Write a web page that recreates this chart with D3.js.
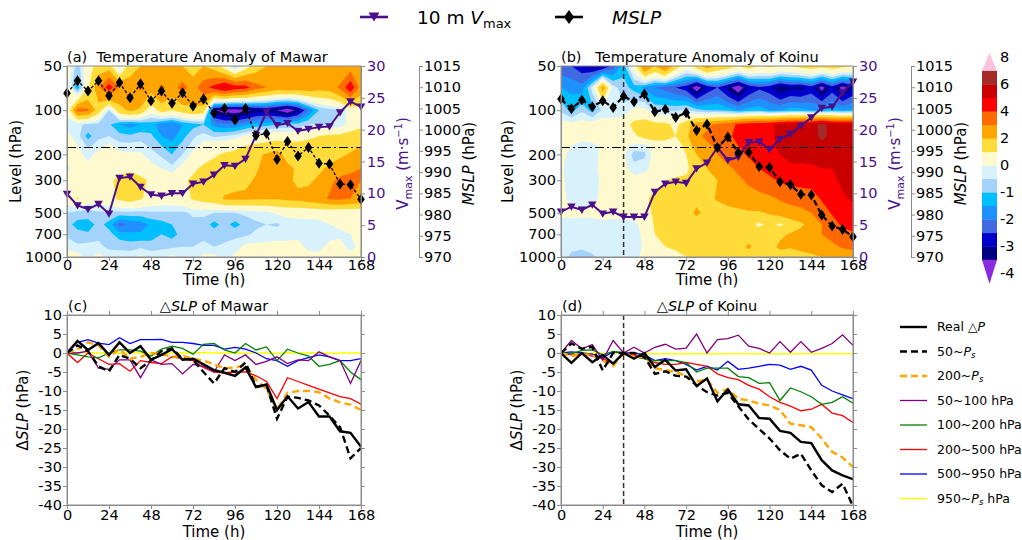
<!DOCTYPE html>
<html>
<head>
<meta charset="utf-8">
<script src="https://cdn.jsdelivr.net/npm/d3@7"></script>
<style>
  body { margin: 0; background: #fff; }
  svg text { font-family: "DejaVu Sans", sans-serif; }
</style>
</head>
<body>
<svg id="fig" width="1022" height="540"></svg>
<script>
// ---------------- data ----------------
const hours = [0, 6, 12, 18, 24, 30, 36, 42, 48, 54, 60, 66, 72, 78, 84, 90, 96, 102, 108, 114, 120, 126, 132, 138, 144, 150, 156, 162, 168];
const levels = [50, 70, 100, 125, 150, 175, 200, 250, 300, 400, 500, 600, 700, 850, 1000];

// temperature anomaly (K), one row per pressure level, one column per hour
const anomMawar = [
  [0.5, -0.8, 0.5, 1.5, 1.5, -0.4, 1.5, 2.0, 2.5, 2.0, 2.5, 2.0, 1.5, 2.0, 1.5, 0.5, -0.8, 0.5, 1.5, 2.0, 2.5, 2.5, 2.5, 2.5, 2.0, 2.0, 2.0, 2.5, 2.0],
  [0.3, -1.4, 0.8, 2.8, 4.6, 3.0, 2.6, 3.2, 2.4, 3.2, 2.6, 3.4, 2.6, 3.6, 4.4, 5.2, 4.6, 4.4, 3.4, 3.0, 2.6, 2.8, 2.6, 2.6, 2.4, 2.4, 3.2, 4.8, 2.6],
  [0.3, 3.4, 3.2, 1.5, -0.5, 1.6, 2.2, 1.8, 0.4, 1.4, 1.0, 1.5, 1.8, 1.5, -3.4, -3.9, -3.9, -3.7, -3.3, -3.2, -3.5, -4.0, -3.3, -2.0, -1.0, -0.7, -0.5, 0.3, 0.5],
  [-0.3, -0.4, -0.6, -0.7, -0.9, -1.5, -1.7, -1.5, -1.3, -1.8, -2.0, -1.5, -1.2, -1.0, -1.7, -1.9, -1.9, -1.6, -1.3, -1.2, -1.0, -0.9, -0.8, -0.5, -0.5, -0.5, -0.4, 0.3, 0.8],
  [0.2, -0.3, -1.2, -0.6, -0.5, -0.8, -0.9, -0.7, -0.9, -1.5, -1.7, -1.2, -0.6, -0.3, -0.6, -0.5, -0.3, 0.1, 0.3, 0.5, 0.6, 0.5, 0.6, 0.8, 1.0, 1.2, 1.3, 1.5, 1.5],
  [0.3, 0.0, -0.6, -0.3, 0.2, -0.3, -0.3, -0.3, -0.6, -1.0, -1.3, -0.8, -0.3, 0.3, 0.5, 0.6, 0.8, 1.0, 1.2, 1.3, 1.5, 1.4, 1.3, 1.4, 1.5, 1.5, 1.6, 1.7, 2.0],
  [0.4, 0.3, -0.3, 0.3, 0.4, 0.2, 0.1, 0.1, -0.3, -0.6, -1.0, -0.5, 0.2, 0.6, 0.9, 1.1, 1.2, 1.5, 1.8, 2.1, 2.4, 1.6, 1.4, 1.6, 1.7, 1.6, 1.8, 2.1, 2.4],
  [-0.2, 0.4, 0.3, 0.4, 0.5, 0.6, 0.8, 0.5, 0.3, 0.0, -0.3, 0.3, 0.8, 1.2, 1.3, 1.4, 1.5, 1.6, 1.9, 2.3, 2.6, 2.3, 1.8, 1.6, 1.8, 2.2, 2.6, 2.8, 3.0],
  [0.3, 0.4, 0.5, 0.6, 0.8, 1.3, 1.5, 1.3, 0.8, 0.6, 0.6, 0.8, 1.2, 1.4, 1.5, 1.6, 1.7, 1.8, 2.1, 2.4, 2.5, 2.2, 1.8, 1.8, 2.2, 2.8, 3.2, 3.3, 3.0],
  [0.3, 1.1, 0.3, 0.4, 0.6, 1.2, 1.5, 1.1, 0.6, 0.5, 0.5, 0.6, 1.1, 1.4, 1.6, 2.1, 2.2, 2.2, 2.1, 2.1, 2.1, 2.2, 2.3, 2.5, 2.7, 3.1, 3.2, 3.0, 2.8],
  [-0.5, -0.7, -0.7, -0.6, -0.6, -0.7, -0.7, -0.7, -0.6, -0.6, -0.6, -0.6, -0.4, -0.4, -0.5, -0.5, -0.5, -0.4, -0.3, -0.2, 0.1, 0.2, 0.2, 0.3, 0.3, 0.3, 0.2, 0.2, 0.2],
  [-0.8, -1.2, -1.3, -0.8, -1.2, -2.2, -1.9, -1.8, -1.4, -1.2, -1.0, -0.8, -0.7, -0.7, -1.2, -0.8, -1.2, -0.8, -0.6, -0.5, -0.6, -0.3, -0.2, -0.3, -0.2, 0.0, 0.1, 0.2, 0.1],
  [-0.6, -0.8, -0.9, -0.6, -0.8, -1.3, -1.4, -1.4, -1.3, -1.0, -1.2, -0.8, -0.7, -0.6, -0.7, -0.7, -0.6, -0.6, -0.4, -0.3, -0.2, -0.2, -0.2, -0.3, -0.2, -0.2, -0.1, 0.0, 0.0],
  [-0.2, -0.4, -0.3, -0.4, -0.6, -0.6, -0.7, -0.6, -0.7, -0.6, -0.6, -0.5, -0.5, -0.4, -0.5, -0.4, -0.3, 0.2, 0.2, 0.2, 0.2, 0.2, 0.3, -0.2, -0.2, 0.2, 0.2, -0.2, 0.2],
  [0.5, 0.3, -0.2, 0.3, -0.2, -0.3, -0.2, 0.2, -0.2, -0.2, 0.2, -0.2, -0.2, 0.2, 0.2, -0.2, 0.2, 0.3, 0.3, 0.2, 0.3, 0.3, 0.2, 0.3, 0.2, 0.2, 0.3, 0.3, 0.3]
];
const anomKoinu = [
  [-2.3, -2.5, -2.8, -3.2, -3.2, -2.3, -1.2, 0.5, 3.2, 2.0, 3.2, 1.5, 0.5, 1.5, 2.5, 1.8, 1.5, 1.0, 1.5, 1.0, 1.2, 1.0, 1.0, 1.3, 1.5, 1.3, 1.5, 1.3, 1.0],
  [-1.5, -1.6, -1.8, -0.3, 2.5, -0.3, -0.8, -1.2, -1.6, -2.0, -2.2, -2.5, -2.8, -4.0, -2.9, -2.5, -3.2, -4.0, -3.0, -2.6, -2.8, -3.5, -3.1, -3.2, -2.8, -3.8, -2.8, -3.8, -3.0],
  [-0.6, -1.2, -0.6, -1.2, -0.4, -0.3, -0.3, 0.2, 0.2, -0.6, -0.6, -0.6, -0.4, -0.8, -1.0, -1.0, -1.2, -1.5, -1.3, -1.2, -1.5, -1.5, -1.3, -1.3, -1.5, -1.5, -1.3, -1.5, -1.4],
  [0.3, 0.2, 0.3, 0.3, 0.4, 0.3, 0.5, 1.3, 1.5, 1.3, 1.2, 0.8, 1.5, 2.6, 2.8, 3.2, 3.5, 4.2, 4.5, 4.6, 4.8, 5.3, 5.5, 5.5, 5.6, 6.3, 5.6, 5.5, 5.5],
  [0.3, 0.3, 0.2, 0.4, 0.3, 0.3, 0.3, 0.8, 1.4, 1.4, 1.4, 1.0, 1.8, 2.8, 3.2, 3.5, 3.8, 4.3, 4.4, 4.6, 4.8, 5.2, 5.6, 5.8, 5.6, 6.2, 5.8, 5.8, 5.8],
  [0.2, 0.0, -0.2, -0.2, 0.2, 0.3, 0.2, -0.2, -0.3, 0.5, 0.5, 0.5, 1.3, 2.5, 2.8, 3.2, 3.6, 4.0, 4.2, 4.5, 4.8, 5.2, 5.5, 5.6, 5.6, 5.8, 5.6, 5.8, 6.0],
  [0.2, -0.2, -0.3, -0.3, 0.2, 0.3, 0.1, -0.7, -0.6, 0.3, 0.4, 0.5, 1.0, 2.0, 2.6, 3.0, 3.4, 3.8, 4.1, 4.4, 4.7, 5.0, 5.3, 5.3, 5.4, 5.5, 5.4, 5.6, 5.8],
  [0.1, -0.3, -0.3, -0.2, 0.2, 0.3, 0.2, -0.3, -0.2, 0.3, 0.4, 0.5, 0.8, 1.5, 2.0, 2.5, 2.8, 3.2, 3.6, 4.0, 4.3, 4.6, 4.8, 4.8, 4.8, 5.0, 5.0, 5.3, 5.5],
  [0.1, -0.2, -0.3, -0.2, 0.1, 0.3, 0.2, 0.3, 0.4, 0.7, 0.9, 1.2, 1.2, 1.3, 1.6, 2.0, 2.3, 2.8, 3.2, 3.6, 3.8, 4.1, 4.3, 4.4, 4.4, 4.6, 4.8, 5.2, 5.5],
  [0.2, -0.2, -0.3, -0.2, 0.2, 0.2, 0.3, 0.5, 0.8, 1.3, 1.4, 1.5, 1.4, 1.6, 1.7, 2.1, 2.3, 2.4, 2.5, 2.6, 2.8, 3.1, 3.3, 3.3, 3.5, 4.1, 4.3, 4.8, 5.2],
  [0.2, 0.3, 0.2, 0.2, 0.3, 0.3, 0.3, 0.4, 0.6, 1.2, 1.3, 1.4, 1.4, 2.3, 1.6, 1.5, 1.7, 1.8, 1.9, 1.9, 2.1, 2.4, 2.6, 2.8, 3.0, 3.5, 4.1, 4.3, 4.5],
  [-0.3, -0.4, -0.3, -0.3, -0.2, -0.3, -0.3, -0.2, 0.3, 1.1, 1.2, 1.3, 1.2, 1.3, 1.4, 1.5, 1.6, 1.6, 1.3, 0.8, 1.3, 0.8, 1.4, 1.8, 2.4, 3.0, 3.5, 4.2, 4.4],
  [-0.3, -0.4, -0.3, -0.3, -0.3, -0.2, -0.3, -0.3, 0.2, 1.0, 1.1, 1.2, 1.1, 1.2, 1.4, 1.5, 1.5, 1.4, 1.5, 1.6, 1.5, 1.8, 2.1, 2.4, 2.6, 3.0, 3.3, 3.6, 3.8],
  [-0.3, -0.4, -0.4, -0.3, -0.3, -0.3, -0.3, -0.3, 0.1, 0.8, 1.0, 1.1, 1.2, 1.2, 1.3, 1.4, 1.6, 1.6, 2.2, 1.5, 1.6, 2.2, 2.1, 2.3, 2.4, 2.6, 2.8, 3.1, 3.2],
  [-0.3, -0.6, -0.8, -0.6, -0.3, -0.3, -0.4, -0.2, 0.2, 0.5, 0.6, 0.8, 1.0, 1.1, 1.2, 1.3, 1.2, 1.3, 1.4, 1.4, 1.3, 1.5, 1.4, 1.6, 1.8, 2.0, 2.2, 2.4, 2.6]
];

// 10 m maximum wind (m/s) and minimum sea-level pressure (hPa)
const vmaxMawar = [9.9, 8.1, 7.5, 8.3, 6.8, 12.4, 12.6, 11.0, 9.8, 9.6, 10.0, 10.0, 11.5, 11.8, 12.9, 14.4, 14.3, 15.4, 19.1, 22.8, 20.7, 21.0, 19.8, 20.1, 20.4, 20.5, 22.7, 24.4, 23.6];
const mslpMawar = [1008.6, 1011.5, 1009.1, 1011.5, 1008.0, 1011.1, 1007.5, 1010.8, 1006.8, 1009.1, 1006.2, 1008.7, 1005.6, 1007.2, 1003.9, 1005.0, 1002.3, 1005.0, 998.6, 999.1, 993.0, 997.2, 993.8, 995.8, 992.1, 991.9, 987.2, 987.0, 983.6];
const vmaxKoinu = [7.1, 7.9, 7.4, 8.2, 6.8, 7.1, 6.3, 6.3, 6.3, 10.2, 11.5, 11.8, 11.6, 13.9, 14.8, 17.2, 15.2, 15.7, 18.0, 18.1, 16.9, 18.5, 19.3, 20.6, 21.9, 23.4, 23.6, 25.8, 27.5];
const mslpKoinu = [1007.2, 1004.9, 1007.0, 1005.4, 1006.8, 1005.2, 1007.9, 1006.6, 1008.4, 1004.2, 1004.8, 1002.9, 1004.0, 999.8, 1001.3, 995.8, 998.3, 994.6, 994.7, 991.3, 991.1, 987.7, 987.0, 984.8, 984.6, 979.9, 977.3, 976.5, 974.8];

// sea-level pressure change (hPa) and its contributions from layers
const realDpMawar = [0, 3.2, 0.8, 2.6, -0.5, 2.8, 0.0, 1.8, -1.8, -0.5, 1.0, -1.8, -1.5, -3.0, -4.5, -5.2, -6.0, -3.8, -9.0, -8.3, -15.0, -11.4, -14.6, -12.9, -16.7, -16.7, -20.6, -21.0, -24.7];
const ps50Mawar = [0, 2.0, 0.5, -3.5, -4.8, -0.5, -1.5, -4.0, -2.0, 0.5, 1.2, -1.5, -1.8, -5.0, -8.0, -4.0, -5.0, -2.5, -8.8, -8.5, -17.3, -11.5, -11.8, -12.5, -13.8, -16.5, -19.5, -27.7, -25.0];
const ps200Mawar = [0, 1.0, 2.8, 2.0, -1.0, 1.0, -1.5, -1.0, 0.0, -0.3, -1.0, -0.8, -1.5, -2.0, -3.0, -4.0, -3.8, -3.2, -7.0, -9.5, -14.8, -10.5, -10.0, -10.0, -10.3, -12.0, -13.0, -13.6, -15.0];
const l50Mawar = [0, 0.0, 0.5, -4.0, -4.3, -1.8, -1.8, -6.5, -1.8, -3.0, -2.8, -5.5, -3.0, -3.5, -5.0, -0.5, -2.0, -0.5, -3.0, -2.2, -1.0, -2.8, -1.8, -2.0, 0.3, -1.0, -2.0, -8.0, -2.0];
const l100Mawar = [0, -0.5, -1.0, -1.3, 0.0, 0.8, 0.8, 0.5, -0.8, 1.0, 1.8, 1.2, -0.3, 2.3, 2.5, 0.8, 0.0, 2.5, 0.8, 1.6, -2.0, 1.0, 0.0, -0.8, -3.5, -3.0, -2.0, -5.0, -7.0];
const l200Mawar = [0, -2.5, 0.0, -1.5, -3.0, -2.8, -4.8, -2.0, -2.5, -2.8, -1.0, -1.5, -2.0, -3.8, -5.0, -5.2, -5.0, -5.0, -6.0, -7.5, -12.0, -6.5, -7.5, -8.5, -9.5, -10.5, -11.5, -12.0, -13.5];
const l500Mawar = [0, 2.8, 3.5, 2.6, 2.2, 4.0, 2.5, 3.5, 3.5, 3.6, 2.8, 2.8, 2.5, 2.0, 2.0, 1.0, 1.5, 1.0, 0.0, -1.5, -2.0, -3.5, -2.0, -1.2, -0.5, -1.0, -2.0, -2.0, -1.5];
const l950Mawar = [0, 0.1, 0.1, 0, 0, -0.1, 0, 0, 0, -0.1, 0, 0, 0, 0.1, 0, 0, 0, -0.1, 0, 0, -0.1, 0, 0, 0, 0, -0.1, 0, 0, 0];

const realDpKoinu = [0, -2.6, 0.0, -2.4, -0.5, -2.8, 0.0, -1.5, 0.0, -3.7, -1.8, -4.6, -4.3, -8.7, -6.7, -12.7, -9.6, -13.5, -13.8, -17.1, -17.3, -20.5, -21.0, -23.4, -23.7, -28.2, -30.9, -32.2, -33.2];
const ps50Koinu = [0, 2.5, 1.1, 1.6, -4.6, 0.0, 0.0, 0.0, -1.0, -5.5, -4.8, -6.0, -6.2, -8.5, -10.3, -11.2, -10.5, -14.0, -17.5, -20.0, -22.5, -25.6, -27.8, -26.5, -30.9, -34.8, -36.6, -34.4, -40.3];
const ps200Koinu = [0, -0.8, -0.3, -0.5, -2.0, -3.5, 0.0, -1.0, -1.0, -4.0, -4.5, -5.0, -6.0, -7.5, -7.0, -10.5, -9.5, -12.0, -12.5, -13.3, -13.8, -15.0, -18.6, -19.0, -19.5, -22.5, -26.0, -27.5, -30.0];
const l50Koinu = [0, 3.3, 1.1, 2.2, -1.9, 3.3, 0.0, 1.5, 0.0, 1.5, 2.3, 1.0, 1.3, 5.0, 0.0, 3.5, 3.8, 4.7, 1.8, 1.2, 0.0, 3.0, 0.2, 3.0, 0.2, 1.2, 2.5, 4.8, 2.0];
const l100Koinu = [0, -0.2, 0.7, 0.8, -0.5, 0.4, 0.0, -1.0, -1.5, -2.0, -2.0, -2.0, -2.5, -5.0, -4.0, -4.0, -4.0, -6.2, -6.5, -8.0, -7.8, -12.5, -9.2, -10.2, -11.5, -13.5, -13.0, -11.5, -13.2];
const l200Koinu = [0, -0.5, -0.3, -0.8, -1.5, -2.8, 0.0, -0.5, -1.5, -2.5, -3.0, -3.0, -2.5, -3.0, -3.5, -5.5, -6.5, -7.0, -8.5, -9.5, -11.5, -13.0, -14.0, -15.2, -14.8, -13.5, -15.8, -16.5, -18.3];
const l500Koinu = [0, 0.3, 0.0, -0.3, -1.2, 0.3, 0.0, 0.0, -0.5, -2.0, -1.5, -2.0, -3.0, -4.5, -3.5, -4.5, -2.2, -4.3, -4.0, -3.5, -3.0, -3.2, -4.3, -3.5, -4.5, -8.5, -10.0, -11.0, -12.0];
const l950Koinu = [0, 0, 0, 0, -0.1, 0, 0, -0.1, -0.1, -0.2, -0.2, -0.2, -0.2, -0.2, -0.2, -0.2, -0.2, -0.2, -0.2, -0.2, -0.2, -0.2, -0.2, -0.2, -0.2, -0.2, -0.2, -0.2, -0.2];

const timeTicks = [0, 24, 48, 72, 96, 120, 144, 168];
const levelTicks = [50, 100, 200, 300, 500, 700, 1000];
const vmaxTicks = [0, 5, 10, 15, 20, 25, 30];
const mslpTicks = [970, 975, 980, 985, 990, 995, 1000, 1005, 1010, 1015];
const dslpTicks = [10, 5, 0, -5, -10, -15, -20, -25, -30, -35, -40];
const cbarTicks = [8, 6, 4, 2, 0, -1, -2, -3, -4];

// colour bands: first colour lies below the first edge
const bandEdges = [-3.5, -3, -2.5, -2, -1.5, -1, -0.5, 0, 1, 2, 3, 4, 5, 6, 7];
const bandColors = ["#8a2be2", "#000080", "#0000cd", "#4169e1", "#1e90ff", "#00bfff", "#a3d2fb", "#d7f2fd",
                    "#fffacd", "#ffdc3a", "#ffa500", "#ff6a00", "#ff0000", "#c80000", "#a52a2a", "#fcc3df"];

// ---------------- layout ----------------
const svg = d3.select("#fig");
const VCOL = "#4b0f8c";
const SPINE = "#8c8c8c";
const FS = 14.5;

const panelA = { l: 67, r: 361, t: 66, b: 257 };
const panelB = { l: 561, r: 853, t: 66, b: 257 };
const panelC = { l: 67, r: 361, t: 315, b: 505 };
const panelD = { l: 561, r: 853, t: 315, b: 505 };

const defs = svg.append("defs");
function clipFor(id, p) {
  defs.append("clipPath").attr("id", id).append("rect")
    .attr("x", p.l).attr("y", p.t).attr("width", p.r - p.l).attr("height", p.b - p.t);
  return "url(#" + id + ")";
}

function styleAxis(g, color) {
  g.selectAll(".domain").attr("stroke", SPINE);
  g.selectAll(".tick line").attr("stroke", SPINE);
  g.selectAll(".tick text").attr("font-size", FS).attr("fill", color || "#000")
    .attr("font-family", "DejaVu Sans");
}

function fmt(v) { return String(v); }

// ---------------- contour panels ----------------
function contourPanel(p, grid, vmax, mslp, opts) {
  const x = d3.scaleLinear().domain([0, 168]).range([p.l, p.r]);
  const y = d3.scaleLog().domain([50, 1000]).range([p.t, p.b]);
  const yv = d3.scaleLinear().domain([0, 30]).range([p.b, p.t]);
  const ym = d3.scaleLinear().domain([970, 1015]).range([p.b, p.t]);
  const g = svg.append("g");
  const field = g.append("g").attr("clip-path", clipFor(opts.id, p));

  field.append("rect").attr("x", p.l).attr("y", p.t).attr("width", p.r - p.l).attr("height", p.b - p.t)
    .attr("fill", bandColors[0]);

  const n = hours.length, m = levels.length;
  const contours = d3.contours().size([n, m]).thresholds(bandEdges)(grid.flat());
  const px = c => {
    const f = Math.max(0, Math.min(n - 1, c - 0.5));
    const i0 = Math.min(n - 2, Math.floor(f));
    return x(hours[i0] + (hours[i0 + 1] - hours[i0]) * (f - i0));
  };
  const py = c => {
    const f = Math.max(0, Math.min(m - 1, c - 0.5));
    const j0 = Math.min(m - 2, Math.floor(f));
    return y(levels[j0] + (levels[j0 + 1] - levels[j0]) * (f - j0));
  };
  contours.forEach((mp, k) => {
    let d = "";
    mp.coordinates.forEach(poly => poly.forEach(ring => {
      d += "M" + ring.map(q => px(q[0]).toFixed(2) + "," + py(q[1]).toFixed(2)).join("L") + "Z";
    }));
    if (d) field.append("path").attr("d", d).attr("fill", bandColors[k + 1]);
  });

  // tropical storm threshold 17.2 m/s
  g.append("line").attr("x1", p.l).attr("x2", p.r).attr("y1", yv(17.2)).attr("y2", yv(17.2))
    .attr("stroke", "#000").attr("stroke-width", 1.2).attr("stroke-dasharray", "9,3,2,3");

  if (opts.vline !== undefined) {
    g.append("line").attr("x1", x(opts.vline)).attr("x2", x(opts.vline)).attr("y1", p.t).attr("y2", p.b)
      .attr("stroke", "#333").attr("stroke-width", 1.5).attr("stroke-dasharray", "5,3");
  }

  // Vmax line with down-pointing triangles
  g.append("path").datum(vmax)
    .attr("d", d3.line().x((d, i) => x(hours[i])).y(d => yv(d)))
    .attr("fill", "none").attr("stroke", VCOL).attr("stroke-width", 2);
  g.selectAll(".tri").data(vmax).enter().append("path")
    .attr("d", (d, i) => { const cx = x(hours[i]), cy = yv(d);
      return `M${cx - 4.3},${cy - 3.3}L${cx + 4.3},${cy - 3.3}L${cx},${cy + 4}Z`; })
    .attr("fill", VCOL);

  // MSLP line with thin diamonds
  g.append("path").datum(mslp)
    .attr("d", d3.line().x((d, i) => x(hours[i])).y(d => ym(d)))
    .attr("fill", "none").attr("stroke", "#000").attr("stroke-width", opts.mslpWidth)
    .attr("stroke-dasharray", opts.mslpDash);
  g.selectAll(".dia").data(mslp).enter().append("path")
    .attr("d", (d, i) => { const cx = x(hours[i]), cy = ym(d);
      return `M${cx},${cy - 5.5}L${cx + 3.8},${cy}L${cx},${cy + 5.5}L${cx - 3.8},${cy}Z`; })
    .attr("fill", "#000");

  // frame
  g.append("rect").attr("x", p.l).attr("y", p.t).attr("width", p.r - p.l).attr("height", p.b - p.t)
    .attr("fill", "none").attr("stroke", SPINE);

  // axes
  const ax = g.append("g").attr("transform", `translate(0,${p.b})`)
    .call(d3.axisBottom(x).tickValues(timeTicks).tickSize(4).tickSizeOuter(0).tickFormat(fmt));
  styleAxis(ax); ax.selectAll(".tick text").attr("dy", "0.7em").attr("y", 3);
  const ay = g.append("g").attr("transform", `translate(${p.l},0)`)
    .call(d3.axisLeft(y).tickValues(levelTicks).tickSize(4).tickSizeOuter(0).tickFormat(fmt));
  styleAxis(ay); ay.selectAll(".tick text").attr("x", -5);
  const av = g.append("g").attr("transform", `translate(${p.r},0)`)
    .call(d3.axisRight(yv).tickValues(vmaxTicks).tickSize(4).tickSizeOuter(0).tickFormat(fmt));
  styleAxis(av, VCOL); av.selectAll(".tick text").attr("x", 6);
  const am = g.append("g").attr("transform", `translate(${p.r + 58},0)`)
    .call(d3.axisRight(ym).tickValues(mslpTicks).tickSize(4).tickSizeOuter(0).tickFormat(fmt));
  styleAxis(am); am.selectAll(".tick text").attr("x", 5);

  // labels
  svg.append("text").attr("x", p.l).attr("y", p.t - 4).attr("font-size", FS)
    .attr("xml:space", "preserve").text(opts.title);
  svg.append("text").attr("transform", `translate(${p.l - opts.levelOffset},${(p.t + p.b) / 2}) rotate(-90)`)
    .attr("text-anchor", "middle").attr("font-size", 15).text("Level (hPa)");
  svg.append("text").attr("x", (p.l + p.r) / 2).attr("y", p.b + 28).attr("text-anchor", "middle")
    .attr("font-size", 15).text("Time (h)");
  const vl = svg.append("text").attr("transform", `translate(${p.r + 47},${(p.t + p.b) / 2 + 2}) rotate(-90)`)
    .attr("text-anchor", "middle").attr("font-size", 15).attr("fill", VCOL);
  vl.append("tspan").text("V");
  vl.append("tspan").attr("font-size", 11).attr("dy", 4).text("max");
  vl.append("tspan").attr("dy", -4).text(" (m\u00B7s");
  vl.append("tspan").attr("font-size", 10).attr("dy", -6).text("\u22121");
  vl.append("tspan").attr("dy", 6).text(")");
  const ml = svg.append("text").attr("transform", `translate(${p.r + 113},${(p.t + p.b) / 2 + 2}) rotate(-90)`)
    .attr("text-anchor", "middle").attr("font-size", 15);
  ml.append("tspan").attr("font-style", "italic").text("MSLP");
  ml.append("tspan").text(" (hPa)");
}

contourPanel(panelA, anomMawar, vmaxMawar, mslpMawar,
  { id: "clipA", title: "(a)  Temperature Anomaly of Mawar", mslpWidth: 1.3, mslpDash: "3,2", levelOffset: 46 });
contourPanel(panelB, anomKoinu, vmaxKoinu, mslpKoinu,
  { id: "clipB", title: "(b)   Temperature Anomaly of Koinu", mslpWidth: 2.2, mslpDash: "6,3", vline: 36, levelOffset: 48 });

// ---------------- colour bar ----------------
(function colorbar() {
  const cx = 982, cw = 15, top = 70.7, step = 13.5;
  const nBox = bandEdges.length - 1;              // boxes between the edges
  const bottom = top + nBox * step;
  const cy = k => bottom - k * step;              // k: index along edges
  const g = svg.append("g");
  for (let k = 0; k < nBox; k++) {
    g.append("rect").attr("x", cx).attr("y", cy(k + 1)).attr("width", cw).attr("height", step + 0.4)
      .attr("fill", bandColors[k + 1]);
  }
  g.append("path").attr("d", `M${cx},${top}L${cx + cw / 2},${top - 18}L${cx + cw},${top}Z`)
    .attr("fill", bandColors[bandColors.length - 1]);
  g.append("path").attr("d", `M${cx},${bottom}L${cx + cw / 2},${bottom + 24}L${cx + cw},${bottom}Z`)
    .attr("fill", bandColors[0]);
  const valueToY = v => {
    const k = v >= 0 ? 7 + v : 7 + v * 2;
    return cy(k);
  };
  cbarTicks.forEach(v => {
    g.append("text").attr("x", cx + cw + 3).attr("y", valueToY(v)).attr("dy", "0.35em")
      .attr("font-size", FS).text(fmt(v));
  });
})();

// ---------------- ΔSLP panels ----------------
const lineStyles = [
  { color: "#000", width: 2.4, dash: null },
  { color: "#000", width: 2.4, dash: "7,4" },
  { color: "#ffa500", width: 2.4, dash: "7,4" },
  { color: "#800080", width: 1.3, dash: null },
  { color: "#008000", width: 1.3, dash: null },
  { color: "#ff0000", width: 1.3, dash: null },
  { color: "#0000ff", width: 1.3, dash: null },
  { color: "#ffff00", width: 1.5, dash: null }
];
// legend entries: [plain text, italic P with subscript s?, trailing text]
const legendParts = [
  ["Real \u25B3", "P", "", false],
  ["50~", "P", "", true],
  ["200~", "P", "", true],
  ["50~100 hPa", "", "", false],
  ["100~200 hPa", "", "", false],
  ["200~500 hPa", "", "", false],
  ["500~950 hPa", "", "", false],
  ["950~", "P", " hPa", true]
];

function slpPanel(p, seriesList, opts) {
  const x = d3.scaleLinear().domain([0, 168]).range([p.l, p.r]);
  const y = d3.scaleLinear().domain([-40, 10]).range([p.b, p.t]);
  const g = svg.append("g");
  const plot = g.append("g").attr("clip-path", clipFor(opts.id, p));
  if (opts.vline !== undefined) {
    g.append("line").attr("x1", x(opts.vline)).attr("x2", x(opts.vline)).attr("y1", p.t).attr("y2", p.b)
      .attr("stroke", "#333").attr("stroke-width", 1.5).attr("stroke-dasharray", "5,3");
  }
  const line = d3.line().x((d, i) => x(hours[i])).y(d => y(d));
  // thin layer lines first, the column totals on top
  const order = [7, 6, 5, 4, 3, 2, 1, 0];
  order.forEach(k => {
    const s = lineStyles[k];
    plot.append("path").datum(seriesList[k]).attr("d", line)
      .attr("fill", "none").attr("stroke", s.color).attr("stroke-width", s.width)
      .attr("stroke-dasharray", s.dash).attr("stroke-linejoin", "miter");
  });
  g.append("rect").attr("x", p.l).attr("y", p.t).attr("width", p.r - p.l).attr("height", p.b - p.t)
    .attr("fill", "none").attr("stroke", SPINE);

  const ax = g.append("g").attr("transform", `translate(0,${p.b})`)
    .call(d3.axisBottom(x).tickValues(timeTicks).tickSize(4).tickSizeOuter(0).tickFormat(fmt));
  styleAxis(ax); ax.selectAll(".tick text").attr("dy", "0.7em").attr("y", 5);
  const at = g.append("g").attr("transform", `translate(0,${p.t})`)
    .call(d3.axisTop(x).tickValues(timeTicks).tickSize(4).tickSizeOuter(0).tickFormat(""));
  styleAxis(at);
  const ay = g.append("g").attr("transform", `translate(${p.l},0)`)
    .call(d3.axisLeft(y).tickValues(dslpTicks).tickSize(4).tickSizeOuter(0).tickFormat(fmt));
  styleAxis(ay); ay.selectAll(".tick text").attr("x", -5);
  const ar = g.append("g").attr("transform", `translate(${p.r},0)`)
    .call(d3.axisRight(y).tickValues(dslpTicks).tickSize(4).tickSizeOuter(0).tickFormat(""));
  styleAxis(ar);

  svg.append("text").attr("x", p.l + 1).attr("y", p.t - 4).attr("font-size", FS).text(opts.tag);
  const tt = svg.append("text").attr("x", (p.l + p.r) / 2).attr("y", p.t - 4).attr("text-anchor", "middle")
    .attr("font-size", FS);
  tt.append("tspan").text("\u25B3");
  tt.append("tspan").attr("font-style", "italic").text("SLP");
  tt.append("tspan").text(" of " + opts.name);
  svg.append("text").attr("x", (p.l + p.r) / 2).attr("y", p.b + 32).attr("text-anchor", "middle")
    .attr("font-size", 15).text("Time (h)");
  const yl = svg.append("text").attr("transform", `translate(${p.l - 39},${(p.t + p.b) / 2}) rotate(-90)`)
    .attr("text-anchor", "middle").attr("font-size", 15);
  yl.append("tspan").text("\u0394");
  yl.append("tspan").attr("font-style", "italic").text("SLP");
  yl.append("tspan").text(" (hPa)");
}

slpPanel(panelC, [realDpMawar, ps50Mawar, ps200Mawar, l50Mawar, l100Mawar, l200Mawar, l500Mawar, l950Mawar],
  { id: "clipC", tag: "(c)", name: "Mawar" });
slpPanel(panelD, [realDpKoinu, ps50Koinu, ps200Koinu, l50Koinu, l100Koinu, l200Koinu, l500Koinu, l950Koinu],
  { id: "clipD", tag: "(d)", name: "Koinu", vline: 36 });

// ---------------- legends ----------------
(function bottomLegend() {
  const g = svg.append("g");
  legendParts.forEach((parts, k) => {
    const yy = 327 + k * 24.5;
    const s = lineStyles[k];
    g.append("line").attr("x1", 900).attr("x2", 927).attr("y1", yy).attr("y2", yy)
      .attr("stroke", s.color).attr("stroke-width", s.width).attr("stroke-dasharray", s.dash);
    const t = g.append("text").attr("x", 937).attr("y", yy).attr("dy", "0.35em").attr("font-size", 12.5)
      .attr("xml:space", "preserve");
    t.append("tspan").text(parts[0]);
    if (parts[1]) t.append("tspan").attr("font-style", "italic").text(parts[1]);
    if (parts[3]) t.append("tspan").attr("font-style", "italic").attr("font-size", 8.5).attr("dy", 2).text("s");
    if (parts[2]) t.append("tspan").attr("dy", parts[3] ? -2 : 0).text(parts[2]);
  });
})();

(function topLegend() {
  const g = svg.append("g");
  g.append("line").attr("x1", 360).attr("x2", 388).attr("y1", 17).attr("y2", 17)
    .attr("stroke", VCOL).attr("stroke-width", 2.6);
  g.append("path").attr("d", "M368.5,12.5L379.5,12.5L374,21.5Z").attr("fill", VCOL);
  const t1 = g.append("text").attr("x", 417).attr("y", 24).attr("font-size", 18.5);
  t1.append("tspan").text("10 m ");
  t1.append("tspan").attr("font-style", "italic").text("V");
  t1.append("tspan").attr("font-size", 13).attr("dy", 4).text("max");
  g.append("line").attr("x1", 555).attr("x2", 583).attr("y1", 17).attr("y2", 17)
    .attr("stroke", "#000").attr("stroke-width", 2.6);
  g.append("path").attr("d", "M569,10L574,17L569,24L564,17Z").attr("fill", "#000");
  g.append("text").attr("x", 612).attr("y", 24).attr("font-size", 18.5).attr("font-style", "italic").text("MSLP");
})();
</script>
</body>
</html>
